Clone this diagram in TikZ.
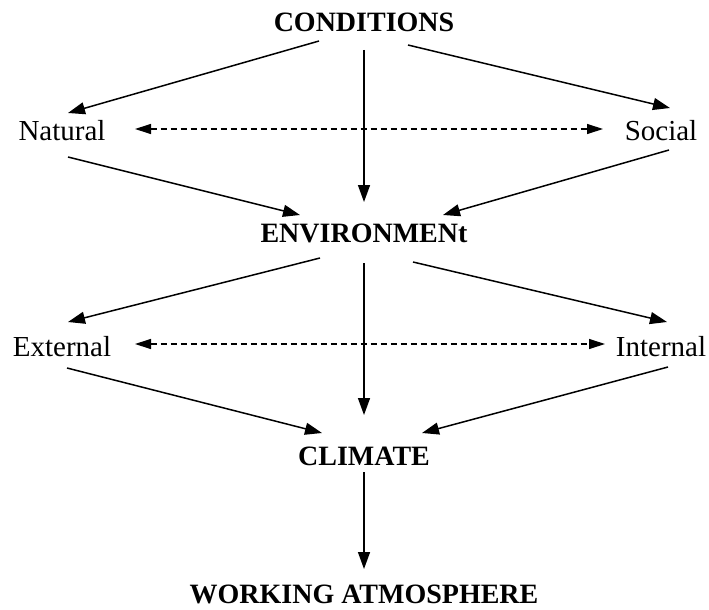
\documentclass[tikz,border=0pt]{standalone}
\usepackage{fontspec}
\setmainfont{Liberation Serif}
\usetikzlibrary{arrows.meta}
\begin{document}
\begin{tikzpicture}[x=1pt,y=-1pt,
  lbl/.style={inner sep=0pt,font=\fontsize{29}{32}\selectfont},
  hd/.style={inner sep=0pt,font=\fontsize{28}{31}\selectfont\bfseries},
  conn/.style={line width=1.5pt,-{Triangle[length=17pt,width=12pt]}},
  dconn/.style={line width=1.2pt,dash pattern=on 6pt off 4pt,{Triangle[length=16pt,width=10pt]}-{Triangle[length=16pt,width=10pt]}}]
\useasboundingbox (0,0) rectangle (709,610);
\node[hd] (cond) at (364,22) {CONDITIONS};
\node[lbl] (nat) at (62,131) {Natural};
\node[lbl] (soc) at (661,131) {Social};
\node[hd] (env) at (364,233) {ENVIRONMENt};
\node[lbl] (ext) at (62,347) {External};
\node[lbl] (int) at (661,347) {Internal};
\node[hd] (clim) at (364,456) {CLIMATE};
\node[hd] (wa) at (364,594) {WORKING ATMOSPHERE};

\draw[conn] ([shift={(-45,19)}]cond.center) -- ([shift={(6,-18)}]nat.center);
\draw[conn] ([shift={(44,23)}]cond.center) -- ([shift={(9,-23)}]soc.center);
\draw[conn] ([shift={(0,28)}]cond.center) -- ([shift={(0,-31)}]env.center);
\draw[dconn] ([shift={(73,-2)}]nat.center) -- ([shift={(-58,-2)}]soc.center);
\draw[conn] ([shift={(6,26)}]nat.center) -- ([shift={(-64,-18)}]env.center);
\draw[conn] ([shift={(8,19)}]soc.center) -- ([shift={(79,-18)}]env.center);

\draw[conn] ([shift={(-44,25)}]env.center) -- ([shift={(6,-25)}]ext.center);
\draw[conn] ([shift={(49,29)}]env.center) -- ([shift={(6,-25)}]int.center);
\draw[conn] ([shift={(0,30)}]env.center) -- ([shift={(0,-41)}]clim.center);
\draw[dconn] ([shift={(73,-3)}]ext.center) -- ([shift={(-56,-3)}]int.center);
\draw[conn] ([shift={(5,21)}]ext.center) -- ([shift={(-42,-23)}]clim.center);
\draw[conn] ([shift={(7,20)}]int.center) -- ([shift={(58,-23)}]clim.center);

\draw[conn] ([shift={(0,16)}]clim.center) -- ([shift={(0,-25)}]wa.center);
\end{tikzpicture}
\end{document}
